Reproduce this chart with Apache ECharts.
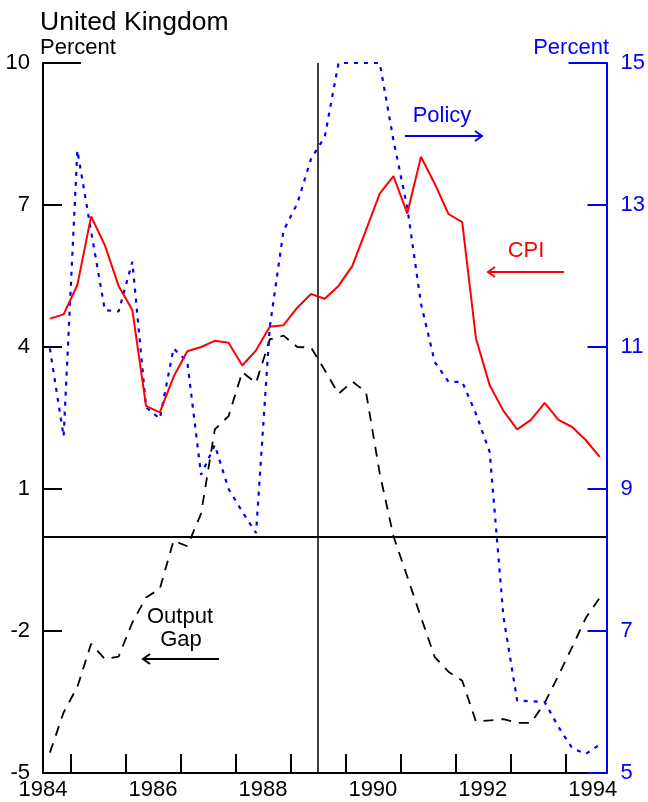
<!DOCTYPE html>
<html>
<head>
<meta charset="utf-8">
<script src="https://cdn.jsdelivr.net/npm/echarts@6/dist/echarts.min.js"></script>
<style>
  html, body { margin: 0; padding: 0; background: #fff; }
  #chart { width: 648px; height: 802px; }
</style>
</head>
<body>
<div id="chart"></div>
<script>
// Quarterly series, 1984Q1 .. 1994Q1
const startYear = 1984;

// Consumer price inflation, percent (left axis)
const cpi = [
  4.60, 4.69, 5.31, 6.76, 6.15, 5.29, 4.78, 2.75, 2.62, 3.37,
  3.91, 4.00, 4.13, 4.09, 3.61, 3.93, 4.43, 4.46, 4.83, 5.12,
  5.02, 5.29, 5.71, 6.47, 7.24, 7.61, 6.82, 8.02, 7.45, 6.81,
  6.64, 4.18, 3.19, 2.65, 2.26, 2.46, 2.82, 2.46, 2.31, 2.03,
  1.68
];

// Policy interest rate, percent (right axis)
const policyRate = [
  10.98, 9.74, 13.77, 12.63, 11.52, 11.50, 12.20, 10.15, 9.99, 10.98,
  10.79, 9.20, 9.62, 9.00, 8.68, 8.38, 11.28, 12.64, 13.02, 13.65,
  13.96, 15.00, 15.00, 15.00, 15.00, 13.91, 12.97, 11.61, 10.79, 10.51,
  10.51, 10.06, 9.52, 7.20, 6.02, 6.01, 6.00, 5.65, 5.35, 5.27,
  5.40
];

// Output gap, percent (left axis)
const outputGap = [
  -4.57, -3.72, -3.18, -2.27, -2.59, -2.54, -1.82, -1.29, -1.11, -0.09,
  -0.21, 0.48, 2.26, 2.54, 3.47, 3.24, 4.16, 4.24, 4.00, 3.99,
  3.51, 3.01, 3.27, 3.05, 1.33, 0.00, -0.85, -1.71, -2.55, -2.86,
  -3.05, -3.91, -3.89, -3.86, -3.94, -3.94, -3.52, -2.94, -2.34, -1.72,
  -1.30
];

// Axis ticks and labels
const yearLabels = [1984, 1986, 1988, 1990, 1992, 1994];
const midYearTicks = [1984.5, 1985.5, 1986.5, 1987.5, 1988.5, 1989.5, 1990.5, 1991.5, 1992.5, 1993.5];
const leftTicks = [-5, -2, 1, 4, 7, 10];
const rightTicks = [5, 7, 9, 11, 13, 15];
const xMin = 1984, xMax = 1994.25;
const referenceYear = 1989;

// each quarter is placed at its midpoint on the time axis
const quarterPos = i => startYear + (i + 0.5) / 4;
const toPairs = arr => arr.map((v, i) => [quarterPos(i), v]);

const FONT = '"Liberation Sans", Arial, Helvetica, sans-serif';
const BLUE = '#0000ff';
const RED = '#ff0000';
const BLACK = '#000000';

function textEl(str, x, y, color, size) {
  return {
    type: 'text',
    silent: true,
    style: {
      text: str, x: x, y: y, fill: color,
      font: size + 'px ' + FONT,
      textAlign: 'center', textVerticalAlign: 'middle',
      align: 'center', verticalAlign: 'middle'
    }
  };
}

// horizontal arrow with an open chevron head at x2
function arrowEl(x1, x2, y, color) {
  const dir = x2 > x1 ? 1 : -1;
  return [
    { type: 'line', silent: true, shape: { x1: x1, y1: y, x2: x2, y2: y },
      style: { stroke: color, lineWidth: 2 } },
    { type: 'polyline', silent: true,
      shape: { points: [[x2 - dir * 7, y - 5], [x2, y], [x2 - dir * 7, y + 5]] },
      style: { stroke: color, lineWidth: 2, fill: null } }
  ];
}

const chart = echarts.init(document.getElementById('chart'), null, { renderer: 'canvas' });

const option = {
  animation: false,
  backgroundColor: '#fff',
  textStyle: { fontFamily: FONT },
  title: [
    { text: 'United Kingdom', left: 35, top: 4,
      textStyle: { fontSize: 26.5, fontWeight: 'normal', color: BLACK, fontFamily: FONT } },
    { text: 'Percent', left: 35, top: 32,
      textStyle: { fontSize: 22, fontWeight: 'normal', color: BLACK, fontFamily: FONT } },
    { text: 'Percent', right: 34, top: 32,
      textStyle: { fontSize: 22, fontWeight: 'normal', color: BLUE, fontFamily: FONT } }
  ],
  grid: { left: 43, right: 40, top: 63, bottom: 29, containLabel: false },
  xAxis: {
    type: 'value',
    min: xMin, max: xMax,
    axisLine: { show: true, onZero: false, lineStyle: { color: BLACK, width: 2 } },
    axisTick: { show: true, inside: true, length: 19, customValues: midYearTicks,
      lineStyle: { color: BLACK, width: 2 } },
    axisLabel: { customValues: yearLabels, color: BLACK, fontSize: 22, fontFamily: FONT,
      margin: 6, formatter: v => String(Math.round(v)) },
    splitLine: { show: false }
  },
  yAxis: [
    {
      type: 'value', position: 'left',
      min: leftTicks[0], max: leftTicks[leftTicks.length - 1], interval: 3,
      axisLine: { show: true, onZero: false, lineStyle: { color: BLACK, width: 2 } },
      axisTick: { show: true, inside: true, length: 19, lineStyle: { color: BLACK, width: 2 } },
      axisLabel: { color: BLACK, fontSize: 22, fontFamily: FONT, margin: 13 },
      splitLine: { show: false }
    },
    {
      type: 'value', position: 'right',
      min: rightTicks[0], max: rightTicks[rightTicks.length - 1], interval: 2,
      axisLine: { show: true, onZero: false, lineStyle: { color: BLUE, width: 2 } },
      axisTick: { show: true, inside: true, length: 19, lineStyle: { color: BLUE, width: 2 } },
      axisLabel: { color: BLUE, fontSize: 22, fontFamily: FONT, margin: 14 },
      splitLine: { show: false }
    },
    {
      // longer cap tick at the top of the left scale
      type: 'value', position: 'left',
      min: leftTicks[0], max: leftTicks[leftTicks.length - 1],
      axisLine: { show: false },
      axisTick: { show: true, inside: true, length: 38, customValues: [leftTicks[leftTicks.length - 1]],
        lineStyle: { color: BLACK, width: 2 } },
      axisLabel: { show: false },
      splitLine: { show: false }
    },
    {
      // longer cap tick at the top of the right scale
      type: 'value', position: 'right',
      min: rightTicks[0], max: rightTicks[rightTicks.length - 1],
      axisLine: { show: false },
      axisTick: { show: true, inside: true, length: 38, customValues: [rightTicks[rightTicks.length - 1]],
        lineStyle: { color: BLUE, width: 2 } },
      axisLabel: { show: false },
      splitLine: { show: false }
    }
  ],
  series: [
    {
      name: 'Output Gap', type: 'line', yAxisIndex: 0,
      data: toPairs(outputGap),
      showSymbol: false, symbol: 'none',
      lineStyle: { color: BLACK, width: 1.8, type: [10, 8] },
      markLine: {
        silent: true, symbol: 'none',
        label: { show: false },
        data: [
          { yAxis: 0, lineStyle: { color: BLACK, width: 2, type: 'solid' } },
          { xAxis: referenceYear, lineStyle: { color: BLACK, width: 1.5, type: 'solid' } }
        ]
      },
      z: 3
    },
    {
      name: 'Policy', type: 'line', yAxisIndex: 1,
      data: toPairs(policyRate),
      showSymbol: false, symbol: 'none',
      lineStyle: { color: BLUE, width: 2.2, type: [4, 6] },
      z: 4
    },
    {
      name: 'CPI', type: 'line', yAxisIndex: 0,
      data: toPairs(cpi),
      showSymbol: false, symbol: 'none',
      lineStyle: { color: RED, width: 2 },
      z: 5
    }
  ],
  graphic: [].concat(
    [textEl('Policy', 442, 116, BLUE, 22)],
    arrowEl(405, 482, 136, BLUE),
    [textEl('CPI', 526, 251, RED, 22)],
    arrowEl(564, 488, 272, RED),
    [textEl('Output', 180, 617, BLACK, 22), textEl('Gap', 181, 640, BLACK, 22)],
    arrowEl(219, 143, 659, BLACK)
  )
};

chart.setOption(option);
</script>
</body>
</html>
